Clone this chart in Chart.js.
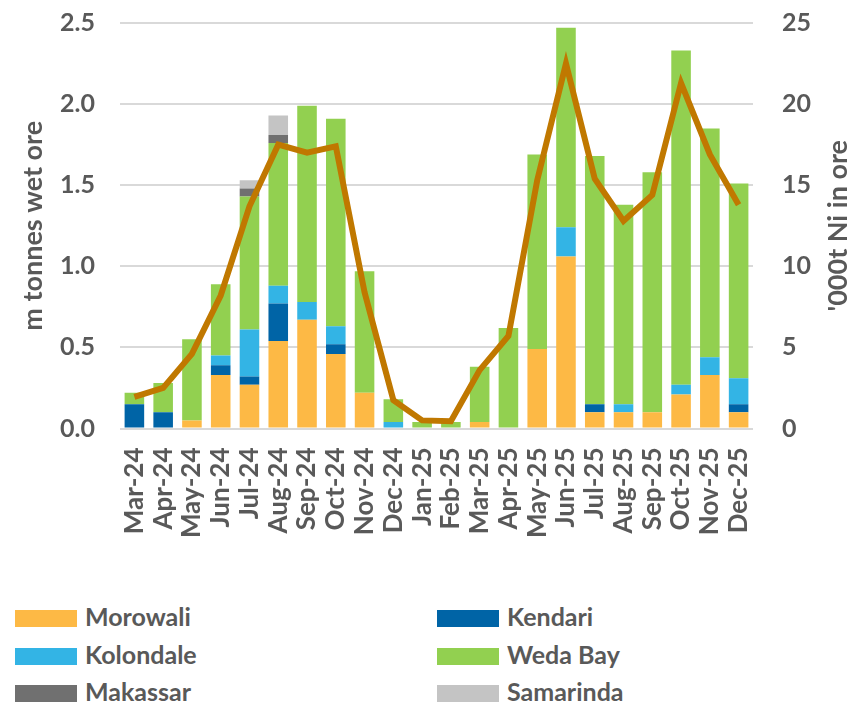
<!DOCTYPE html>
<html>
<head>
<meta charset="utf-8">
<script src="https://cdn.jsdelivr.net/npm/chart.js@4.4.1/dist/chart.umd.min.js"></script>
<style>
  body { margin: 0; background: #fff; }
  #wrap { position: relative; width: 864px; height: 702px; }
  #box { position: absolute; left: 0; top: 0; width: 864px; height: 560px; }
  .leg { position: absolute; font: bold 25px Lato, sans-serif; color: #595959; line-height: 30px; }
  .leg span { display: inline-block; width: 62px; height: 17px; margin-right: 8px; vertical-align: -1px; }
</style>
</head>
<body>
<div id="wrap">
  <div id="box"><canvas id="myChart"></canvas></div>
  <div id="legend"></div>
</div>
<script>
// categories
let months = ["Mar-24","Apr-24","May-24","Jun-24","Jul-24","Aug-24","Sep-24","Oct-24","Nov-24","Dec-24",
  "Jan-25","Feb-25","Mar-25","Apr-25","May-25","Jun-25","Jul-25","Aug-25","Sep-25","Oct-25","Nov-25","Dec-25"];

// m tonnes wet ore, by port
let morowali  = [0, 0, 0.05, 0.33, 0.27, 0.54, 0.67, 0.46, 0.22, 0, 0, 0, 0.04, 0, 0.49, 1.06, 0.10, 0.10, 0.10, 0.21, 0.33, 0.10];
let kendari   = [0.15, 0.10, 0, 0.06, 0.05, 0.23, 0, 0.06, 0, 0, 0, 0, 0, 0, 0, 0, 0.05, 0, 0, 0, 0, 0.05];
let kolondale = [0, 0, 0, 0.06, 0.29, 0.11, 0.11, 0.11, 0, 0.04, 0, 0, 0, 0, 0, 0.18, 0, 0.05, 0, 0.06, 0.11, 0.16];
let wedaBay   = [0.07, 0.18, 0.50, 0.44, 0.82, 0.88, 1.21, 1.28, 0.75, 0.14, 0.04, 0.04, 0.34, 0.62, 1.20, 1.23, 1.53, 1.23, 1.48, 2.06, 1.41, 1.20];
let makassar  = [0, 0, 0, 0, 0.05, 0.05, 0, 0, 0, 0, 0, 0, 0, 0, 0, 0, 0, 0, 0, 0, 0, 0];
let samarinda = [0, 0, 0, 0, 0.05, 0.12, 0, 0, 0, 0, 0, 0, 0, 0, 0, 0, 0, 0, 0, 0, 0, 0];

// '000t Ni in ore (right axis)
let niOre = [1.95, 2.5, 4.6, 8.2, 13.7, 17.5, 17.0, 17.4, 8.4, 1.75, 0.5, 0.45, 3.6, 5.7, 15.3, 22.5, 15.4, 12.8, 14.4, 21.3, 16.9, 13.8];

let leftTicks = [0, 0.5, 1.0, 1.5, 2.0, 2.5];
let rightTicks = [0, 5, 10, 15, 20, 25];

let textColor = '#595959';
let gridColor = '#D9D9D9';

let series = [
  { label: 'Morowali',  data: morowali,  color: '#FDB945' },
  { label: 'Kendari',   data: kendari,   color: '#0064A6' },
  { label: 'Kolondale', data: kolondale, color: '#33B4E5' },
  { label: 'Weda Bay',  data: wedaBay,   color: '#92D050' },
  { label: 'Makassar',  data: makassar,  color: '#707070' },
  { label: 'Samarinda', data: samarinda, color: '#C4C4C4' }
];

let barSets = series.map(s => ({
  type: 'bar',
  label: s.label,
  data: s.data,
  backgroundColor: s.color,
  yAxisID: 'y',
  stack: 'ports',
  order: 1,
  barPercentage: 0.68,
  categoryPercentage: 1.0
}));

let lineSet = {
  type: 'line',
  label: "'000t Ni in ore",
  data: niOre,
  yAxisID: 'y1',
  borderColor: '#C07800',
  borderWidth: 6,
  pointRadius: 0,
  tension: 0,
  order: 0
};

// right axis title reads bottom to top, so draw it by hand
let rightTitle = {
  id: 'rightTitle',
  afterDraw(chart) {
    let ctx = chart.ctx;
    let a = chart.chartArea;
    ctx.save();
    ctx.translate(838, (a.top + a.bottom) / 2);
    ctx.rotate(-Math.PI / 2);
    ctx.font = 'bold 27px Lato';
    ctx.fillStyle = textColor;
    ctx.textAlign = 'center';
    ctx.textBaseline = 'middle';
    ctx.fillText("'000t Ni in ore", 0, 0);
    ctx.restore();
  }
};

// the tick padding would otherwise push the plot top down
function fixVertical(w) {
  return function (scale) {
    scale.width = w;
    scale.paddingTop = 0;
    scale.paddingBottom = 0;
  };
}

let popCanvas = document.getElementById("myChart");

new Chart(popCanvas, {
  data: { labels: months, datasets: [...barSets, lineSet] },
  options: {
    responsive: true,
    maintainAspectRatio: false,
    animation: false,
    layout: { padding: { top: 23, left: 0, right: 0, bottom: 0 } },
    plugins: { legend: { display: false }, tooltip: { enabled: false } },
    scales: {
      x: {
        stacked: true,
        grid: { display: false, drawTicks: false },
        border: { display: false },
        ticks: {
          color: textColor,
          font: { family: 'Lato', size: 26, weight: 'bold' },
          minRotation: 90,
          maxRotation: 90,
          autoSkip: false,
          padding: 19
        },
        afterFit(scale) { scale.height = 131.5; }
      },
      y: {
        position: 'left',
        stacked: true,
        min: 0,
        max: 2.5,
        afterBuildTicks(scale) { scale.ticks = leftTicks.map(v => ({ value: v })); },
        grid: { color: gridColor, lineWidth: 2, drawTicks: false },
        border: { display: false },
        ticks: {
          color: textColor,
          font: { family: 'Lato', size: 25, weight: 'bold' },
          padding: 25,
          callback: v => v.toFixed(1)
        },
        title: {
          display: true,
          text: 'm tonnes wet ore',
          color: textColor,
          font: { family: 'Lato', size: 27, weight: 'bold' },
          padding: { top: 17, bottom: 0 }
        },
        afterFit: fixVertical(120)
      },
      y1: {
        position: 'right',
        min: 0,
        max: 25,
        afterBuildTicks(scale) { scale.ticks = rightTicks.map(v => ({ value: v })); },
        grid: { drawOnChartArea: false, drawTicks: false },
        border: { display: false },
        ticks: {
          color: textColor,
          font: { family: 'Lato', size: 25, weight: 'bold' },
          padding: 29
        },
        afterFit: fixVertical(111)
      }
    }
  },
  plugins: [rightTitle]
});

// legend in two columns, same order as the stack
let legend = document.getElementById('legend');
series.forEach((s, i) => {
  let d = document.createElement('div');
  d.className = 'leg';
  d.style.left = (i % 2 === 0 ? 15 : 437) + 'px';
  d.style.top = (601 + Math.floor(i / 2) * 37.5) + 'px';
  d.innerHTML = '<span style="background:' + s.color + '"></span>' + s.label;
  legend.appendChild(d);
});
</script>
</body>
</html>
